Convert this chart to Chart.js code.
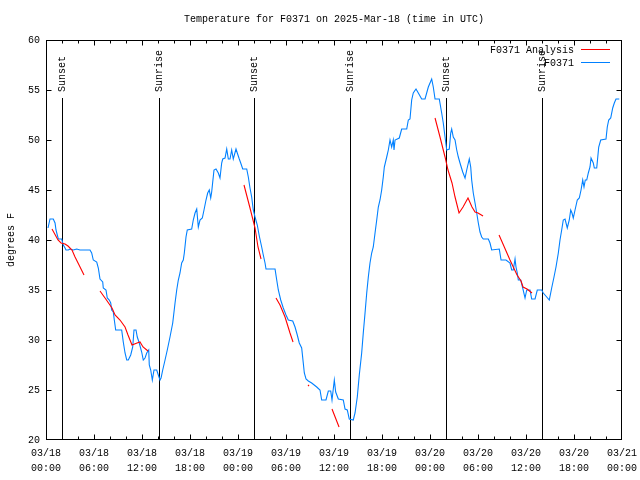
<!DOCTYPE html>
<html><head><meta charset="utf-8">
<script src="https://cdn.jsdelivr.net/npm/chart.js@4/dist/chart.umd.min.js"></script>
<style>html,body{margin:0;padding:0;background:#fff;}#wrap{width:640px;height:480px;}</style>
</head><body><div id="wrap"><canvas id="c" width="640" height="480"></canvas></div>
<script>
const FONT = "'Liberation Mono', 'DejaVu Sans Mono', monospace";
const titleText = 'Temperature for F0371 on 2025-Mar-18 (time in UTC)';
const yTitle = 'degrees F';
const obsLabel = 'F0371';
const anaLabel = 'F0371 Analysis';
const tickDates = ['03/18','03/18','03/18','03/18','03/19','03/19','03/19','03/19','03/20','03/20','03/20','03/20','03/21'];
const tickTimes = ['00:00','06:00','12:00','18:00','00:00','06:00','12:00','18:00','00:00','06:00','12:00','18:00','00:00'];
const sunHours = [2.0, 14.1, 26.0, 38.0, 50.0, 62.0];
const sunLabels = ['Sunset','Sunrise','Sunset','Sunrise','Sunset','Sunrise'];

// hours since 03/18 00:00 UTC
const obsHours = [
 0.25,0.5,0.91,1.13,1.25,1.41,1.54,1.96,2.16,2.38,
 2.5,2.79,3.0,3.41,3.84,4.25,4.66,5.5,5.71,5.91,
 6.34,6.54,6.75,7.09,7.16,7.5,7.66,7.91,8.09,8.21,
 8.41,8.54,8.71,9.46,9.66,9.88,10.09,10.29,10.59,10.84,
 11.0,11.25,11.41,11.66,11.96,12.16,12.38,12.59,12.84,12.91,
 13.09,13.29,13.5,13.84,14.04,14.25,14.38,14.59,14.88,15.16,
 15.5,15.84,16.13,16.34,16.54,16.75,16.96,17.16,17.29,17.5,
 17.66,18.21,18.41,18.63,18.84,19.04,19.25,19.54,19.75,20.0,
 20.21,20.41,20.59,20.71,20.84,21.0,21.25,21.54,21.75,21.96,
 22.09,22.38,22.59,22.79,23.0,23.21,23.41,23.75,23.91,24.16,
 24.34,24.59,25.09,25.29,25.5,25.71,25.91,26.13,26.41,26.66,
 26.96,27.16,27.38,27.5,28.63,28.84,29.04,29.34,29.66,30.0,
 30.29,30.84,31.13,31.41,31.66,31.96,32.16,32.29,32.5,32.79,
 33.21,33.84,34.25,34.46,35.0,35.29,35.59,35.75,36.04,36.21,
 36.54,37.16,37.38,37.66,37.91,38.41,38.63,38.91,39.16,39.46,
 39.66,39.88,40.09,40.29,40.5,40.71,40.91,41.13,41.34,41.54,
 41.75,41.96,42.16,42.29,42.59,42.79,43.0,43.21,43.41,43.5,
 43.63,44.16,44.46,45.09,45.29,45.5,45.71,45.91,46.25,46.54,
 46.96,47.38,47.79,48.21,48.41,48.63,49.16,49.46,49.66,49.88,
 50.09,50.41,50.59,50.71,50.91,51.13,51.34,51.54,51.75,52.09,
 52.38,52.59,52.91,53.09,53.21,53.41,53.63,53.84,54.04,54.25,
 54.46,54.66,55.29,55.5,55.71,56.66,56.88,57.5,58.0,58.21,
 58.41,58.63,58.75,58.91,59.04,59.34,59.59,59.88,60.09,60.5,
 60.71,61.13,61.41,61.96,62.16,62.59,62.91,63.21,63.5,63.75,
 64.04,64.25,64.46,64.66,64.88,65.16,65.41,65.59,65.75,65.91,
 66.13,66.41,66.66,66.88,67.09,67.25,67.41,67.59,67.79,68.0,
 68.13,68.41,68.54,68.84,69.09,69.34,70.0,70.16,70.34,70.59,
 70.84,71.04,71.25,71.66
];
const obsTemps = [
 41.2,42.1,42.1,41.7,41.0,40.5,40.1,40.1,39.5,39.2,
 39.0,39.0,39.1,39.0,39.1,39.0,39.0,39.0,38.7,38.0,
 37.8,37.2,36.1,35.8,35.2,35.0,34.2,34.0,33.7,33.0,
 32.8,32.0,31.0,31.0,29.8,28.7,28.0,28.0,28.5,29.3,
 31.0,31.0,30.3,29.7,28.8,28.0,28.2,28.7,29.0,27.5,
 27.0,26.0,27.0,27.0,26.5,26.0,26.2,27.0,28.0,29.0,
 30.3,31.7,33.7,35.0,36.0,36.7,37.7,38.0,38.7,40.3,
 41.0,41.1,42.0,42.7,43.1,41.3,42.0,42.2,43.0,44.0,
 44.7,45.0,44.2,44.8,45.8,47.0,47.1,46.7,46.2,47.7,
 48.1,48.2,49.1,48.1,48.1,49.0,48.1,49.1,48.7,48.1,
 47.7,47.1,47.1,46.3,45.2,44.3,43.0,42.3,41.5,40.4,
 39.3,38.5,37.7,37.1,37.1,36.0,35.0,34.0,33.2,32.5,
 32.0,31.9,31.3,30.5,29.7,29.2,27.7,26.7,26.1,25.9,
 25.7,25.3,25.0,24.0,24.0,24.9,24.9,24.0,26.0,24.8,
 24.1,24.0,23.1,23.0,22.1,22.0,22.7,24.3,26.5,28.7,
 30.7,32.7,34.7,36.3,37.7,38.7,39.3,40.7,42.0,43.3,
 44.0,45.0,46.3,47.3,48.3,49.0,50.0,49.3,50.0,49.0,
 50.0,50.2,51.1,51.1,52.0,52.1,54.0,54.7,55.1,54.7,
 54.1,54.1,55.3,56.1,55.3,54.1,54.1,52.7,51.7,50.3,
 49.0,49.1,50.7,51.1,50.3,50.0,49.0,48.3,47.7,46.8,
 46.2,47.0,48.1,47.3,46.0,44.7,43.7,42.7,41.7,40.8,
 40.3,40.1,40.1,39.7,39.0,39.1,38.0,38.0,37.7,37.0,
 37.0,38.1,37.3,36.7,36.0,36.0,35.2,34.2,35.0,35.0,
 34.1,34.1,35.0,35.0,34.7,34.3,34.0,35.2,36.3,37.3,
 38.7,40.0,41.0,42.0,42.1,41.2,42.0,43.0,42.7,42.2,
 43.0,44.0,44.2,45.0,46.0,45.3,46.0,46.0,46.7,47.3,
 48.2,47.7,47.2,47.2,49.3,50.0,50.1,51.3,52.0,52.2,
 53.2,53.7,54.1,54.1
];

// analysis segments; null temperature = gap between segments
const anaHours = [
 0.75,1.5,1.88,2.38,2.75,3.25,3.63,4.13,4.75, 5.5,
 6.75,7.38,8.25,8.63,9.25,9.88,10.25,10.75,11.38,11.75,12.13,12.75, 18,
 24.75,25.5,26.13,26.5,26.88, 27.8,
 28.75,29.25,29.88,30.5,30.88, 31.8,
 32.75,32.88, 34,
 35.75,36.63, 42,
 48.63,49.25,49.88,50.25,50.75,51.13,51.63,52.13,52.75,53.25,53.63,54.0,54.63, 55.5,
 56.63,58.0,58.88,59.38,59.63,60.13,60.75
];
const anaTemps = [
 41.1,40.0,39.7,39.6,39.4,39.0,38.3,37.5,36.5, null,
 34.9,34.2,33.2,32.5,32.0,31.3,30.5,29.5,29.7,29.8,29.3,28.9, null,
 45.5,43.2,41.2,39.3,38.1, null,
 34.2,33.5,32.3,30.7,29.8, null,
 25.5,25.4, null,
 23.1,21.3, null,
 52.2,50.3,48.3,47.0,45.7,44.3,42.7,43.3,44.2,43.3,42.8,42.7,42.4, null,
 40.5,38.0,36.5,35.9,35.3,35.1,34.7
];

const toXY = (xs, ys) => xs.map((h, i) => ({x: h, y: ys[i]}));

const sunPlugin = {
  id: 'sunLines',
  beforeDatasetsDraw(chart) {
    const {ctx, chartArea, scales: {x}} = chart;
    ctx.save();
    ctx.strokeStyle = '#000'; ctx.lineWidth = 1;
    ctx.fillStyle = '#000'; ctx.font = '10px ' + FONT;
    sunHours.forEach((h, i) => {
      const px = Math.round(x.getPixelForValue(h)) + 0.5;
      ctx.beginPath(); ctx.moveTo(px, chartArea.top + 58); ctx.lineTo(px, chartArea.bottom); ctx.stroke();
      ctx.save(); ctx.translate(px, chartArea.top + 52); ctx.rotate(-Math.PI / 2);
      ctx.textAlign = 'left'; ctx.textBaseline = 'middle';
      ctx.fillText(sunLabels[i], 0, 0);
      ctx.restore();
    });
    ctx.restore();
  }
};

const framePlugin = {
  id: 'frame',
  afterDatasetsDraw(chart) {
    const {ctx, chartArea: a, scales: {x, y}} = chart;
    const L = Math.round(a.left) + 0.5, R = Math.round(a.right) - 0.5;
    const T = Math.round(a.top) + 0.5, B = Math.round(a.bottom) - 0.5;
    ctx.save(); ctx.strokeStyle = '#000'; ctx.lineWidth = 1;
    ctx.strokeRect(L, T, R - L, B - T);
    ctx.beginPath();
    x.ticks.forEach(t => {
      const px = Math.min(Math.round(x.getPixelForValue(t.value)) + 0.5, R);
      const len = t.value % 6 === 0 ? 5 : 3;
      ctx.moveTo(px, B); ctx.lineTo(px, B - len);
      ctx.moveTo(px, T); ctx.lineTo(px, T + len);
    });
    y.ticks.forEach(t => {
      const py = Math.min(Math.round(y.getPixelForValue(t.value)) + 0.5, B);
      ctx.moveTo(L, py); ctx.lineTo(L + 5, py);
      ctx.moveTo(R, py); ctx.lineTo(R - 5, py);
    });
    ctx.stroke(); ctx.restore();
  }
};

const legendPlugin = {
  id: 'gpLegend',
  afterDraw(chart) {
    const {ctx, chartArea: a} = chart;
    ctx.save();
    ctx.font = '10px ' + FONT; ctx.textAlign = 'right'; ctx.textBaseline = 'middle'; ctx.fillStyle = '#000';
    chart.data.datasets.forEach((ds, i) => {
      const yy = Math.round(a.top + 10 + i * 12.5);
      ctx.fillText(ds.label, a.right - 48, yy + 0.5);
      ctx.strokeStyle = ds.borderColor; ctx.lineWidth = 1;
      ctx.beginPath(); ctx.moveTo(a.right - 41, yy - 0.5); ctx.lineTo(a.right - 12, yy - 0.5); ctx.stroke();
    });
    ctx.restore();
  }
};

Chart.defaults.color = '#000';
Chart.defaults.font.family = FONT;
Chart.defaults.font.size = 10;

new Chart(document.getElementById('c'), {
  type: 'line',
  data: {
    datasets: [
      {label: anaLabel, data: toXY(anaHours, anaTemps), borderColor: '#ff0000', borderWidth: 1.1,
       pointRadius: 0, tension: 0, spanGaps: false, fill: false},
      {label: obsLabel, data: toXY(obsHours, obsTemps), borderColor: '#0080ff', borderWidth: 1.1,
       pointRadius: 0, tension: 0, fill: false}
    ]
  },
  options: {
    responsive: false, animation: false, devicePixelRatio: 1,
    layout: {padding: {left: 0, right: 18, top: 0, bottom: 0}},
    plugins: {
      legend: {display: false},
      tooltip: {enabled: false},
      title: {display: true, text: titleText, color: '#000', fullSize: false,
              font: {family: FONT, size: 10, weight: 'normal'}, padding: {top: 13, bottom: 15}}
    },
    scales: {
      x: {
        type: 'linear', min: 0, max: 72,
        grid: {display: false, drawTicks: false},
        border: {display: false},
        ticks: {
          stepSize: 2, autoSkip: false, maxRotation: 0, minRotation: 0, padding: 6,
          font: {family: FONT, size: 10, lineHeight: 1.5},
          callback: v => (v % 6 === 0 ? [tickDates[v / 6], tickTimes[v / 6]] : '')
        },
        afterFit: s => { s.height = 40; s.paddingLeft = 0; s.paddingRight = 0; }
      },
      y: {
        min: 20, max: 60,
        grid: {display: false, drawTicks: false},
        border: {display: false},
        ticks: {stepSize: 5, padding: 6, font: {family: FONT, size: 10}},
        title: {display: true, text: yTitle, font: {family: FONT, size: 10}, padding: {top: 5, bottom: 0}},
        afterFit: s => { s.width = 46; }
      }
    }
  },
  plugins: [sunPlugin, framePlugin, legendPlugin]
});
</script>
</body></html>
